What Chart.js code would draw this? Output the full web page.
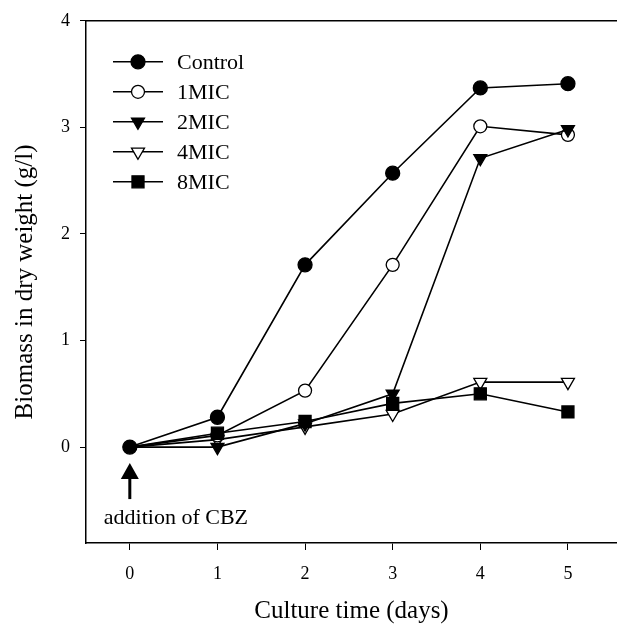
<!DOCTYPE html>
<html>
<head>
<meta charset="utf-8">
<script src="https://cdn.jsdelivr.net/npm/chart.js@4/dist/chart.umd.min.js"></script>
<style>
  html, body { margin: 0; padding: 0; background: #fff; }
  #wrap { width: 617px; height: 626px; }
</style>
</head>
<body>
<div id="wrap"><canvas id="biomassChart"></canvas></div>
<script>
// culture time (days)
const days = [0, 1, 2, 3, 4, 5];

// biomass in dry weight (g/l)
const control = [0, 0.28, 1.71, 2.57, 3.37, 3.41];
const mic1 = [0, 0.11, 0.53, 1.71, 3.01, 2.93];
const mic2 = [0, 0.0, 0.22, 0.50, 2.71, 2.98];
const mic4 = [0, 0.07, 0.19, 0.31, 0.61, 0.61];
const mic8 = [0, 0.13, 0.24, 0.41, 0.50, 0.33];

const seriesNames = ['Control', '1MIC', '2MIC', '4MIC', '8MIC'];
const xTicks = [0, 1, 2, 3, 4, 5];
const yTicks = [0, 1, 2, 3, 4];

const serif = '"Liberation Serif", "Times New Roman", serif';

function toPoints(values) {
  return days.map((d, i) => ({ x: d, y: values[i] }));
}

// at day 0 every series sits under the Control circle, so only that one shows
function makeSet(label, values, style, radius, filled, rotation, order, showFirst) {
  return {
    label: label,
    data: toPoints(values),
    order: order,
    borderColor: '#000',
    borderWidth: 1.6,
    pointStyle: style,
    legendRadius: radius,
    pointRadius: days.map((d, i) => (i === 0 && !showFirst) ? 0 : radius),
    pointHoverRadius: radius,
    pointRotation: rotation || 0,
    pointBackgroundColor: filled ? '#000' : '#fff',
    pointBorderColor: '#000',
    pointBorderWidth: 1.3,
    fill: false,
    tension: 0
  };
}

// lower order is drawn on top
const datasets = [
  makeSet(seriesNames[0], control, 'circle', 7, true, 0, 0, true),
  makeSet(seriesNames[1], mic1, 'circle', 6.5, false, 0, 3),
  makeSet(seriesNames[2], mic2, 'triangle', 7.5, true, 180, 2),
  makeSet(seriesNames[3], mic4, 'triangle', 7.5, false, 180, 4),
  makeSet(seriesNames[4], mic8, 'rect', 8.5, true, 0, 1)
];

// legend drawn inside the plot, top left
const innerLegend = {
  id: 'innerLegend',
  afterDatasetsDraw(chart) {
    const ctx = chart.ctx;
    const left = chart.chartArea.left;
    const top = chart.chartArea.top;
    ctx.save();
    chart.data.datasets.forEach((ds, i) => {
      const y = top + 41 + i * 30;
      ctx.strokeStyle = '#000';
      ctx.lineWidth = ds.borderWidth;
      ctx.beginPath();
      ctx.moveTo(left + 27, y);
      ctx.lineTo(left + 77, y);
      ctx.stroke();
      ctx.fillStyle = ds.pointBackgroundColor;
      ctx.strokeStyle = '#000';
      ctx.lineWidth = ds.pointBorderWidth;
      Chart.helpers.drawPoint(ctx, {
        pointStyle: ds.pointStyle,
        rotation: ds.pointRotation,
        radius: ds.legendRadius,
        borderWidth: ds.pointBorderWidth
      }, left + 52, y);
      ctx.fillStyle = '#000';
      ctx.font = '22px ' + serif;
      ctx.textAlign = 'left';
      ctx.textBaseline = 'middle';
      ctx.fillText(ds.label, left + 91, y + 1);
    });
    ctx.restore();
  }
};

// top frame line and the "addition of CBZ" arrow
const extras = {
  id: 'extras',
  afterDraw(chart) {
    const ctx = chart.ctx;
    const area = chart.chartArea;
    ctx.save();
    ctx.strokeStyle = '#000';
    ctx.lineWidth = 1.5;
    ctx.beginPath();
    ctx.moveTo(area.left, area.top);
    ctx.lineTo(area.right, area.top);
    ctx.stroke();

    const x0 = chart.scales.x.getPixelForValue(0);
    const y0 = chart.scales.y.getPixelForValue(0);
    ctx.lineWidth = 3;
    ctx.beginPath();
    ctx.moveTo(x0, y0 + 28);
    ctx.lineTo(x0, y0 + 52);
    ctx.stroke();
    ctx.fillStyle = '#000';
    ctx.beginPath();
    ctx.moveTo(x0, y0 + 16);
    ctx.lineTo(x0 - 9, y0 + 32);
    ctx.lineTo(x0 + 9, y0 + 32);
    ctx.closePath();
    ctx.fill();

    ctx.font = '22px ' + serif;
    ctx.textAlign = 'left';
    ctx.textBaseline = 'middle';
    ctx.fillText('addition of CBZ', x0 - 26, y0 + 71);
    ctx.restore();
  }
};

const ctx = document.getElementById('biomassChart').getContext('2d');
const biomassChart = new Chart(ctx, {
  type: 'line',
  data: { datasets: datasets },
  plugins: [innerLegend, extras],
  options: {
    responsive: true,
    maintainAspectRatio: false,
    animation: false,
    layout: { autoPadding: false, padding: { left: 0, right: 0, top: 20, bottom: 0 } },
    plugins: {
      legend: { display: false },
      tooltip: { enabled: false }
    },
    scales: {
      x: {
        type: 'linear',
        min: -0.5,
        max: 5.56,
        afterBuildTicks: axis => { axis.ticks = xTicks.map(v => ({ value: v })); },
        afterFit: axis => {
          axis.height = 83;
          axis.paddingLeft = 0;
          axis.paddingRight = 0;
        },
        ticks: {
          color: '#000',
          padding: 13,
          font: { family: serif, size: 18 },
          callback: v => String(v)
        },
        grid: { display: true, drawOnChartArea: false, drawTicks: true, tickLength: 7, color: '#000', lineWidth: 1 },
        border: { display: true, color: '#000', width: 1.5 },
        title: {
          display: true,
          text: 'Culture time (days)',
          color: '#000',
          font: { family: serif, size: 25 },
          padding: { top: 10, bottom: 0 }
        }
      },
      y: {
        type: 'linear',
        min: -0.9,
        max: 4,
        afterBuildTicks: axis => { axis.ticks = yTicks.map(v => ({ value: v })); },
        afterFit: axis => { axis.width = 86; },
        ticks: {
          color: '#000',
          padding: 10,
          font: { family: serif, size: 18 },
          callback: v => String(v)
        },
        grid: { display: true, drawOnChartArea: false, drawTicks: true, tickLength: 6, color: '#000', lineWidth: 1 },
        border: { display: true, color: '#000', width: 1.5 },
        title: {
          display: true,
          text: 'Biomass in dry weight (g/l)',
          color: '#000',
          font: { family: serif, size: 25 },
          padding: { top: 10, bottom: 0 }
        }
      }
    }
  }
});
</script>
</body>
</html>
